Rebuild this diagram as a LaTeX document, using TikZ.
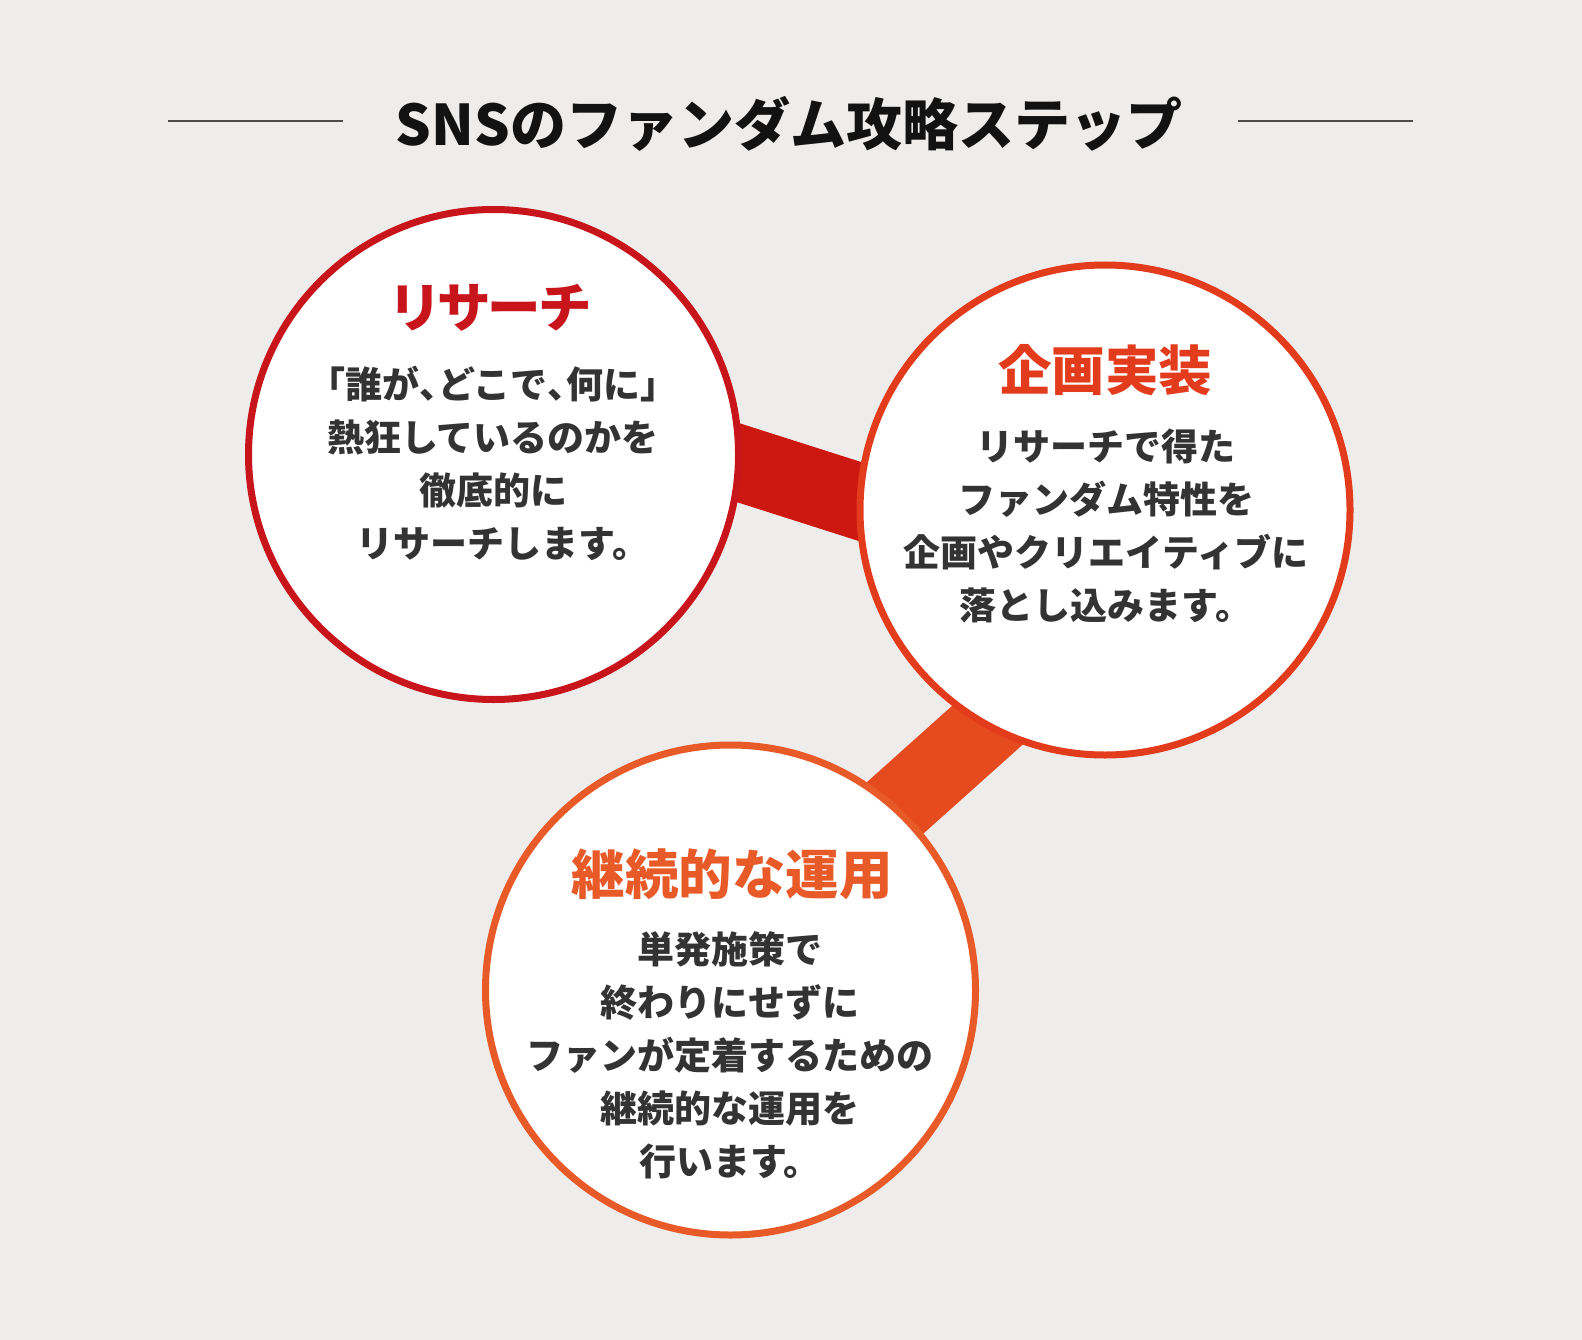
\documentclass[tikz,border=0pt]{standalone}
\usepackage{fontspec}
\setmainfont{Noto Sans CJK JP}
\definecolor{bgcol}{HTML}{EEEDEB}
\definecolor{redA}{HTML}{C8141B}
\definecolor{redB}{HTML}{E33C1C}
\definecolor{redC}{HTML}{E85A28}
\definecolor{bandA}{HTML}{CC1810}
\definecolor{bandB}{HTML}{E54B1E}
\definecolor{bodycol}{HTML}{333333}
\newcommand{\halfcomma}{{\addfontfeature{RawFeature=+halt}、}}
\tikzset{
  stepcircle/.style={circle, fill=white, line width=7pt, minimum size=490pt, inner sep=0pt},
  stephead/.style={font=\fontsize{53.5pt}{60pt}\selectfont\bfseries},
  stepbody/.style={font=\fontsize{37pt}{53pt}\selectfont\bfseries, text=bodycol, align=center},
  bandline/.style={line width=76pt},
}
\begin{document}
\begin{tikzpicture}[x=1pt, y=-1pt]
	\fill[bgcol] (0,0) rectangle (1582,1340);
	\useasboundingbox (0,0) rectangle (1582,1340);

	\node[font=\fontsize{56pt}{62pt}\selectfont\bfseries, text=black!93] (title) at (789,124) {SNSのファンダム攻略ステップ};
	\coordinate (l1) at (167.5,121);
	\coordinate (l2) at (343,121);
	\coordinate (r1) at (1238,121);
	\coordinate (r2) at (1412.5,121);
	\draw[black!70, line width=1.3pt] (l1) -- (l2);
	\draw[black!70, line width=1.3pt] (r1) -- (r2);

	\coordinate (b1s) at (700,450.5);
	\coordinate (b1e) at (900,514.3);
	\coordinate (b2s) at (1010,705);
	\coordinate (b2e) at (880,821.4);
	\draw[bandline, bandA] (b1s) -- (b1e);
	\draw[bandline, bandB] (b2s) -- (b2e);

	\node[stepcircle, draw=redA] (research) at (493.5,454.5) {};
	\node[stepcircle, draw=redB] (planning) at (1105,510) {};
	\node[stepcircle, draw=redC] (operation) at (730.5,990) {};

	\node[stephead, text=redA] (researchhead) at (491,307.5) {\addfontfeature{RawFeature=+palt}リサーチ};
	\node[stepbody] (researchbody) at (493,463) {「誰が\halfcomma どこで\halfcomma 何に」\\熱狂しているのかを\\徹底的に\\\hspace*{20pt}リサーチします。};

	\node[stephead, text=redB] (planninghead) at (1105,370) {企画実装};
	\node[stepbody] (planningbody) at (1106,525.5) {リサーチで得た\\ファンダム特性を\\企画やクリエイティブに\\落とし込みます。};

	\node[stephead, text=redC] (operationhead) at (732,874) {継続的な運用};
	\node[stepbody] (operationbody) at (730,1055) {単発施策で\\終わりにせずに\\ファンが定着するための\\継続的な運用を\\行います。};
\end{tikzpicture}
\end{document}
